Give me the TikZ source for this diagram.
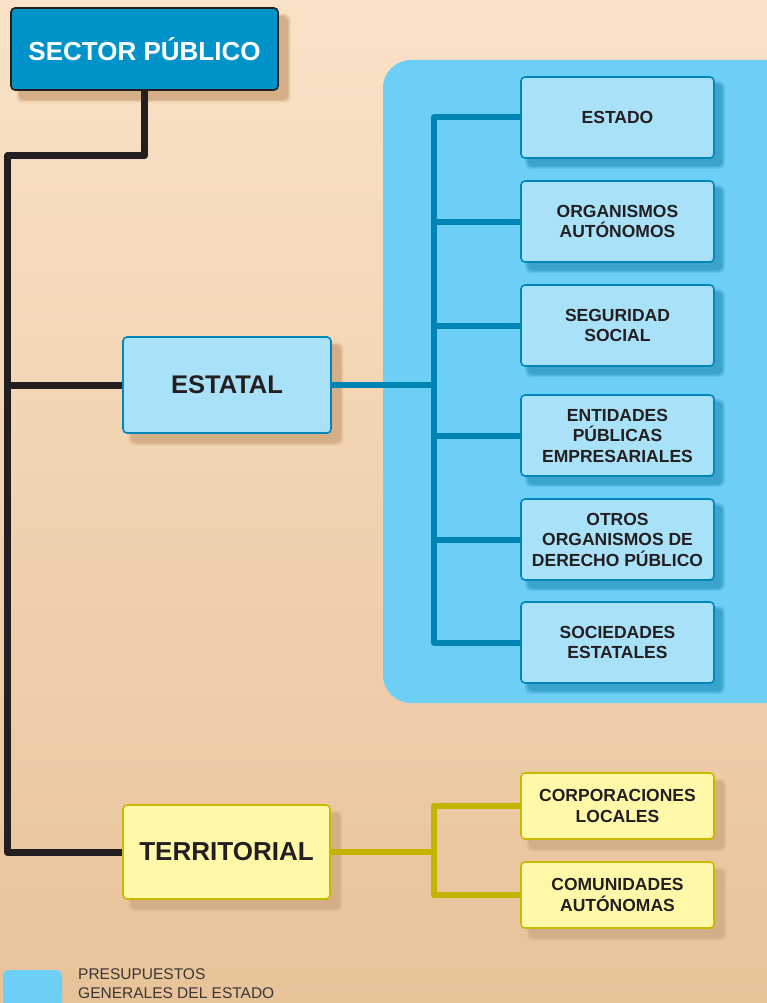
\documentclass[tikz,border=0pt]{standalone}
\usepackage{fontspec}
\setmainfont{Liberation Sans}
\definecolor{bgtop}{HTML}{FAE2C7}
\definecolor{bgbot}{HTML}{E8C39A}
\definecolor{sectfill}{HTML}{0093C9}
\definecolor{darkline}{HTML}{231F20}
\definecolor{lightblue}{HTML}{A9E1F9}
\definecolor{bluedge}{HTML}{0086B8}
\definecolor{panelblue}{HTML}{6DCFF6}
\definecolor{blueline}{HTML}{0084B4}
\definecolor{blueshadow}{HTML}{3AA4CE}
\definecolor{tanshadow}{HTML}{D4AE86}
\definecolor{lightyellow}{HTML}{FFF8A9}
\definecolor{yellowedge}{HTML}{C8BA00}
\definecolor{yellowline}{HTML}{C4B400}
\definecolor{txt}{HTML}{231F20}
\definecolor{legtxt}{HTML}{3A3535}
\pgfdeclarelayer{bg}
\pgfdeclarelayer{shad}
\pgfdeclarelayer{lines}
\pgfsetlayers{bg,shad,lines,main}
\tikzset{
  x=1pt, y=-1pt,
  box/.style={rectangle, rounded corners=4pt, line width=1.6pt, align=center, text=txt, inner sep=2pt},
  topbox/.style={box, fill=sectfill, draw=darkline, text=white, minimum width=267pt, minimum height=82pt, font=\fontsize{26}{30}\selectfont\bfseries},
  midblue/.style={box, fill=lightblue, draw=bluedge, minimum width=208pt, minimum height=96pt, font=\fontsize{25.5}{30}\selectfont\bfseries},
  midyellow/.style={box, fill=lightyellow, draw=yellowedge, minimum width=207pt, minimum height=94pt, font=\fontsize{26}{30}\selectfont\bfseries},
  childblue/.style={box, fill=lightblue, draw=bluedge, minimum width=193pt, minimum height=81pt, font=\fontsize{17.5}{20.5}\selectfont\bfseries},
  childyellow/.style={box, fill=lightyellow, draw=yellowedge, minimum width=193pt, minimum height=66pt, font=\fontsize{17.5}{20.5}\selectfont\bfseries},
  blackconn/.style={draw=darkline, line width=7pt, line join=round, line cap=round},
  blueconn/.style={draw=blueline, line width=6pt, line join=round},
  yellowconn/.style={draw=yellowline, line width=6.5pt, line join=round},
}
% soft shadow: #1 node, #2 colour, #3 offset
\newcommand{\softshadow}[3]{%
  \foreach \g/\o in {2.5/0.35,1.2/0.5,0/1}{%
    \fill[#2, opacity=\o, rounded corners=5pt]
      ([shift={(#3-\g,#3-\g)}]#1.north west) rectangle ([shift={(#3+\g,#3+\g)}]#1.south east);
  }%
}
\begin{document}
\begin{tikzpicture}
\useasboundingbox (0,0) rectangle (767,1003);
\clip (0,0) rectangle (767,1003);
\begin{pgfonlayer}{bg}
\shade[top color=bgtop, bottom color=bgbot] (0,0) rectangle (767,1003);
\fill[panelblue, rounded corners=28pt] (383,60) rectangle (800,703);
\fill[panelblue, rounded corners=5pt] (3,970) rectangle (62,1020);
\end{pgfonlayer}
\node[anchor=north west, align=left, inner sep=0pt, text=legtxt, font=\fontsize{15.5}{19}\selectfont] (legend) at (78,968) {PRESUPUESTOS\\GENERALES DEL ESTADO};

% coordinates for trunks
\coordinate (tk) at (7.5,156);
\coordinate (bx) at (434,0);
\coordinate (yx) at (434,0);

% nodes
\node[topbox] (sector) at (144.5,49) {SECTOR PÚBLICO};
\node[midblue] (estatal) at (227,385) {ESTATAL};
\node[midyellow] (territorial) at (226.5,852) {TERRITORIAL};

\node[childblue] (c1) at (617.5,117.5) {ESTADO};
\node[childblue] (c2) at (617.5,221.5) {ORGANISMOS\\AUTÓNOMOS};
\node[childblue] (c3) at (617.5,325.5) {SEGURIDAD\\SOCIAL};
\node[childblue] (c4) at (617.5,435.5) {ENTIDADES\\PÚBLICAS\\EMPRESARIALES};
\node[childblue] (c5) at (617.5,539.5) {OTROS\\ORGANISMOS DE\\DERECHO PÚBLICO};
\node[childblue] (c6) at (617.5,642.5) {SOCIEDADES\\ESTATALES};

\node[childyellow] (y1) at (617.5,806) {CORPORACIONES\\LOCALES};
\node[childyellow] (y2) at (617.5,895) {COMUNIDADES\\AUTÓNOMAS};

% shadows
\begin{pgfonlayer}{shad}
\foreach \n in {sector,estatal,territorial,y1,y2} {\softshadow{\n}{tanshadow}{9}}
\foreach \n in {c1,c2,c3,c4,c5,c6} {\softshadow{\n}{blueshadow}{7.5}}
\end{pgfonlayer}

% connectors
\begin{pgfonlayer}{lines}
\draw[blackconn] (sector.south) |- (tk) |- (territorial.west);
\draw[blackconn, line cap=butt] (estatal.west) -- (estatal.west -| tk);

\draw[blueconn] (c1.west) -- (c1.west -| bx) -- (c6.west -| bx) -- (c6.west);
\foreach \n in {c2,c3,c4,c5} \draw[blueconn] (\n.west) -- (\n.west -| bx);
\draw[blueconn] (estatal.east) -- (estatal.east -| bx);

\draw[yellowconn] (y1.west) -- (y1.west -| yx) -- (y2.west -| yx) -- (y2.west);
\draw[yellowconn] (territorial.east) -- (territorial.east -| yx);
\end{pgfonlayer}
\end{tikzpicture}
\end{document}
